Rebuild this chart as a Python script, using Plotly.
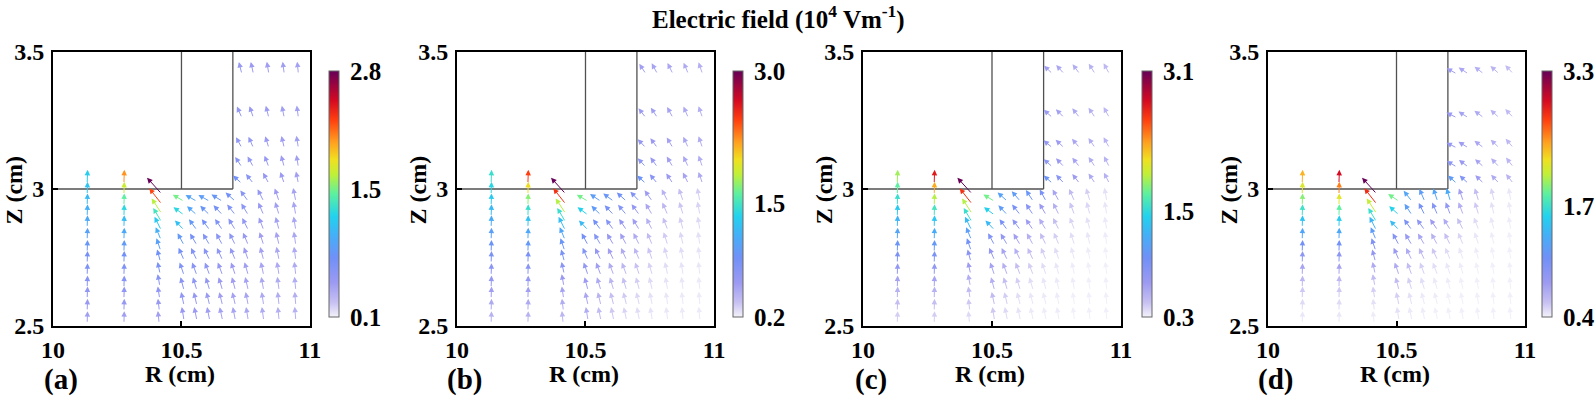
import math
import plotly.graph_objects as go
from plotly.colors import sample_colorscale

# ---------------- data ----------------
PANEL_LABELS = ["(a)", "(b)", "(c)", "(d)"]
CB_MIN = [0.1, 0.2, 0.3, 0.4]
CB_MID = [1.5, 1.5, 1.5, 1.7]
CB_MAX = [2.8, 3.0, 3.1, 3.3]
CB_TEXT = [["0.1", "1.5", "2.8"], ["0.2", "1.5", "3.0"], ["0.3", "1.5", "3.1"], ["0.4", "1.7", "3.3"]]
X_TICKS = [10, 10.5, 11]
X_TICK_TEXT = ["10", "10.5", "11"]
Y_TICKS = [2.5, 3, 3.5]
Y_TICK_TEXT = ["2.5", "3", "3.5"]

# electrode outline (R, Z) segments
BOX_R = [[10.0, 10.7], [10.5, 10.5], [10.7, 10.7]]
BOX_Z = [[3.0, 3.0], [3.0, 3.5], [3.0, 3.5]]

# vertical stacks of arrows in the gap (tails, bottom -> top)
STACK_Z = [2.51, 2.555, 2.60, 2.64, 2.685, 2.73, 2.77, 2.815, 2.86, 2.90, 2.94, 2.98, 3.02]
STACK_LEN = [0.044, 0.044, 0.044, 0.044, 0.044, 0.044, 0.044, 0.044, 0.044, 0.044, 0.044, 0.046, 0.05]
C1_R = 10.133
C2_R = 10.276
C12_ANG = 88

C3_R = [10.413, 10.414, 10.415, 10.416, 10.417, 10.418, 10.419, 10.42, 10.421, 10.422, 10.423, 10.423, 10.423]
C3_Z = [2.51, 2.555, 2.60, 2.645, 2.69, 2.735, 2.775, 2.815, 2.85, 2.88, 2.91, 2.945, 2.982]
C3_ANG = [96, 97, 99, 101, 103, 106, 110, 114, 118, 122, 125, 130, 134]
C3_LEN = [0.045, 0.045, 0.045, 0.045, 0.045, 0.046, 0.048, 0.05, 0.055, 0.06, 0.068, 0.075, 0.082]

C1_MAG = [
    [0.45, 0.5, 0.55, 0.6, 0.66, 0.72, 0.8, 0.88, 0.95, 1.0, 1.06, 1.12, 1.18],
    [0.45, 0.5, 0.56, 0.63, 0.7, 0.8, 0.9, 1.0, 1.1, 1.2, 1.3, 1.38, 1.45],
    [0.42, 0.48, 0.55, 0.64, 0.76, 0.9, 1.02, 1.14, 1.26, 1.4, 1.55, 1.7, 1.85],
    [0.44, 0.48, 0.54, 0.62, 0.75, 0.9, 1.08, 1.28, 1.5, 1.72, 1.95, 2.18, 2.4],
]
C2_MAG = [
    [0.45, 0.5, 0.55, 0.6, 0.66, 0.74, 0.84, 0.95, 1.08, 1.25, 1.45, 1.7, 2.05],
    [0.45, 0.5, 0.56, 0.63, 0.72, 0.82, 0.95, 1.08, 1.25, 1.45, 1.7, 2.0, 2.45],
    [0.42, 0.48, 0.55, 0.64, 0.76, 0.9, 1.05, 1.2, 1.38, 1.6, 1.9, 2.25, 2.7],
    [0.44, 0.48, 0.54, 0.62, 0.75, 0.9, 1.08, 1.3, 1.55, 1.85, 2.2, 2.55, 2.95],
]
C3_MAG = [
    [0.45, 0.5, 0.55, 0.6, 0.68, 0.76, 0.88, 1.0, 1.15, 1.35, 1.65, 2.25, 2.8],
    [0.42, 0.48, 0.54, 0.6, 0.7, 0.8, 0.92, 1.06, 1.22, 1.45, 1.8, 2.5, 3.0],
    [0.38, 0.44, 0.5, 0.58, 0.68, 0.8, 0.95, 1.1, 1.3, 1.55, 1.9, 2.6, 3.1],
    [0.42, 0.46, 0.52, 0.6, 0.7, 0.85, 1.0, 1.2, 1.4, 1.7, 2.1, 2.8, 3.3],
]

# field below the electrode (tails), rows bottom -> top
LOW_R = [10.51, 10.56, 10.61, 10.66, 10.71, 10.76, 10.82, 10.88, 10.945]
LOW_Z = [2.52, 2.575, 2.63, 2.685, 2.74, 2.795, 2.85, 2.905, 2.955]
LOW_LEN = 0.05
LOW_ANG = [
    [100, 102, 102, 103, 102, 100, 98, 96, 95],
    [103, 104, 105, 105, 104, 102, 99, 97, 95],
    [106, 108, 108, 108, 106, 104, 101, 98, 96],
    [110, 112, 112, 112, 110, 107, 103, 100, 97],
    [115, 117, 117, 116, 114, 110, 106, 102, 98],
    [120, 122, 122, 120, 118, 114, 109, 104, 99],
    [135, 128, 128, 126, 123, 118, 112, 106, 100],
]
LOW_TOP_ANG = [
    [[145, 140, 138, 135, 130, 123, 115, 108, 101], [151, 152, 152, 150, 140, 128, 118, 110, 102]],
    [[145, 138, 135, 132, 128, 122, 115, 108, 101], [151, 148, 145, 140, 135, 127, 118, 110, 102]],
    [[145, 135, 130, 125, 122, 118, 112, 106, 100], [150, 140, 132, 125, 120, 120, 115, 108, 101]],
    [[140, 125, 118, 115, 112, 112, 108, 104, 100], [148, 130, 115, 110, 108, 110, 108, 104, 100]],
]
LOW_MAG = [
    [
        [0.5, 0.48, 0.46, 0.44, 0.42, 0.40, 0.38, 0.36, 0.35],
        [0.55, 0.52, 0.49, 0.46, 0.44, 0.42, 0.39, 0.37, 0.36],
        [0.6, 0.56, 0.52, 0.49, 0.46, 0.43, 0.40, 0.38, 0.37],
        [0.65, 0.6, 0.56, 0.52, 0.48, 0.45, 0.42, 0.39, 0.38],
        [0.72, 0.65, 0.6, 0.56, 0.52, 0.48, 0.44, 0.41, 0.39],
        [0.82, 0.72, 0.65, 0.6, 0.56, 0.51, 0.46, 0.43, 0.40],
        [1.1, 0.82, 0.72, 0.65, 0.6, 0.54, 0.48, 0.44, 0.41],
        [1.25, 0.92, 0.8, 0.72, 0.65, 0.58, 0.5, 0.45, 0.42],
        [1.5, 0.9, 0.85, 0.8, 0.75, 0.6, 0.52, 0.47, 0.43],
    ],
    [
        [0.48, 0.4, 0.34, 0.3, 0.27, 0.25, 0.24, 0.23, 0.23],
        [0.52, 0.44, 0.38, 0.33, 0.29, 0.26, 0.24, 0.23, 0.23],
        [0.58, 0.5, 0.43, 0.37, 0.32, 0.28, 0.25, 0.24, 0.23],
        [0.65, 0.57, 0.49, 0.42, 0.36, 0.31, 0.27, 0.25, 0.24],
        [0.74, 0.64, 0.56, 0.49, 0.42, 0.35, 0.3, 0.27, 0.25],
        [0.86, 0.74, 0.64, 0.57, 0.49, 0.4, 0.33, 0.29, 0.26],
        [1.2, 0.86, 0.74, 0.64, 0.57, 0.46, 0.37, 0.32, 0.28],
        [1.35, 0.96, 0.82, 0.74, 0.64, 0.52, 0.42, 0.35, 0.3],
        [1.65, 0.98, 0.92, 0.88, 0.78, 0.58, 0.45, 0.38, 0.32],
    ],
    [
        [0.44, 0.38, 0.35, 0.33, 0.32, 0.32, 0.31, 0.31, 0.31],
        [0.5, 0.42, 0.37, 0.34, 0.33, 0.32, 0.31, 0.31, 0.31],
        [0.57, 0.48, 0.42, 0.37, 0.34, 0.33, 0.32, 0.31, 0.31],
        [0.64, 0.56, 0.48, 0.42, 0.37, 0.34, 0.32, 0.31, 0.31],
        [0.74, 0.64, 0.56, 0.49, 0.42, 0.37, 0.34, 0.32, 0.31],
        [0.87, 0.76, 0.66, 0.57, 0.49, 0.42, 0.37, 0.34, 0.32],
        [1.3, 0.92, 0.78, 0.68, 0.58, 0.48, 0.4, 0.36, 0.33],
        [1.45, 1.07, 0.92, 0.82, 0.7, 0.57, 0.45, 0.39, 0.34],
        [1.75, 1.12, 1.07, 1.02, 0.92, 0.64, 0.5, 0.42, 0.36],
    ],
    [
        [0.46, 0.43, 0.42, 0.41, 0.41, 0.41, 0.41, 0.41, 0.41],
        [0.52, 0.46, 0.43, 0.42, 0.41, 0.41, 0.41, 0.41, 0.41],
        [0.6, 0.52, 0.47, 0.43, 0.42, 0.41, 0.41, 0.41, 0.41],
        [0.7, 0.6, 0.52, 0.47, 0.44, 0.42, 0.41, 0.41, 0.41],
        [0.82, 0.7, 0.62, 0.55, 0.48, 0.44, 0.42, 0.41, 0.41],
        [0.97, 0.84, 0.74, 0.66, 0.58, 0.5, 0.44, 0.42, 0.41],
        [1.45, 1.02, 0.9, 0.8, 0.7, 0.58, 0.48, 0.44, 0.42],
        [1.6, 1.22, 1.07, 0.97, 0.87, 0.68, 0.54, 0.46, 0.43],
        [1.9, 1.27, 1.22, 1.27, 1.32, 0.77, 0.6, 0.5, 0.44],
    ],
]

# field to the right of the electrode (tails), rows bottom -> top
UP_R = [10.735, 10.78, 10.84, 10.90, 10.955]
UP_Z = [3.02, 3.08, 3.15, 3.26, 3.42]
UP_LEN = 0.045
UP_ANG = [
    [[140, 130, 120, 110, 102], [125, 120, 112, 106, 100], [120, 115, 108, 104, 100],
     [115, 110, 105, 102, 98], [105, 103, 100, 98, 96]],
    [[140, 132, 125, 118, 110], [135, 128, 122, 116, 110], [135, 128, 122, 116, 110],
     [130, 125, 120, 115, 110], [125, 120, 118, 114, 110]],
    [[140, 135, 130, 125, 118], [140, 135, 130, 125, 118], [142, 138, 132, 126, 120],
     [140, 136, 130, 125, 120], [138, 134, 128, 124, 120]],
    [[140, 140, 138, 135, 130], [150, 145, 140, 135, 130], [155, 150, 145, 138, 132],
     [155, 150, 145, 140, 135], [152, 148, 144, 140, 135]],
]
UP_MAG = [
    [[0.75, 0.6, 0.52, 0.48, 0.45], [0.6, 0.54, 0.5, 0.47, 0.45], [0.55, 0.52, 0.48, 0.46, 0.44],
     [0.52, 0.5, 0.47, 0.45, 0.44], [0.5, 0.48, 0.46, 0.45, 0.44]],
    [[0.9, 0.72, 0.6, 0.54, 0.5], [0.68, 0.62, 0.56, 0.52, 0.48], [0.64, 0.6, 0.55, 0.51, 0.48],
     [0.6, 0.57, 0.54, 0.5, 0.47], [0.56, 0.54, 0.52, 0.49, 0.46]],
    [[1.0, 0.82, 0.68, 0.6, 0.55], [0.78, 0.7, 0.64, 0.58, 0.54], [0.74, 0.68, 0.62, 0.57, 0.53],
     [0.7, 0.65, 0.6, 0.56, 0.52], [0.66, 0.62, 0.58, 0.55, 0.51]],
    [[1.2, 0.98, 0.8, 0.7, 0.64], [0.9, 0.82, 0.75, 0.68, 0.63], [0.86, 0.8, 0.73, 0.67, 0.62],
     [0.82, 0.76, 0.7, 0.65, 0.61], [0.78, 0.73, 0.68, 0.64, 0.6]],
]

# ---------------- style ----------------
COLORSCALE = [
    [0.0, "#f4f2fa"], [0.06, "#c6c0f2"], [0.14, "#9c9af2"], [0.24, "#7190f8"],
    [0.33, "#45aef8"], [0.41, "#22d2ee"], [0.5, "#5cf0a0"], [0.58, "#c0f038"],
    [0.64, "#f0e020"], [0.71, "#ffa020"], [0.8, "#ff4010"], [0.88, "#d40a22"],
    [1.0, "#660058"],
]
FONT = "Liberation Serif"
XDOM = [[0.0332, 0.1942], [0.2863, 0.4474], [0.5407, 0.7024], [0.7945, 0.9555]]
YDOM = [0.1768, 0.8687]
CB_X = [0.2061, 0.4593, 0.7155, 0.9662]

fig = go.Figure()
annotations = []


def color_of(v, p):
    t = (v - CB_MIN[p]) / (CB_MAX[p] - CB_MIN[p])
    t = min(max(t, 0.0), 1.0)
    return sample_colorscale(COLORSCALE, [t])[0]


def add_arrow(p, r0, z0, ang, length, mag):
    sfx = "" if p == 0 else str(p + 1)
    a = math.radians(ang)
    r1 = r0 + length * math.cos(a)
    z1 = z0 + length * math.sin(a)
    annotations.append(dict(
        x=r1, y=z1, ax=r0, ay=z0, xref="x" + sfx, yref="y" + sfx,
        axref="x" + sfx, ayref="y" + sfx, text="", showarrow=True,
        arrowhead=2, arrowsize=1.1, arrowwidth=1.0, arrowcolor=color_of(mag, p),
        standoff=0, startstandoff=0,
    ))


for p in range(4):
    sfx = "" if p == 0 else str(p + 1)
    for i, zr in enumerate(LOW_Z):
        for j, rr in enumerate(LOW_R):
            ang = LOW_ANG[i][j] if i < 7 else LOW_TOP_ANG[p][i - 7][j]
            add_arrow(p, rr, zr, ang, LOW_LEN, LOW_MAG[p][i][j])
    for i, zr in enumerate(UP_Z):
        for j, rr in enumerate(UP_R):
            add_arrow(p, rr, zr, UP_ANG[p][i][j], UP_LEN, UP_MAG[p][i][j])
    for k, zr in enumerate(STACK_Z):
        add_arrow(p, C1_R, zr, C12_ANG, STACK_LEN[k], C1_MAG[p][k])
        add_arrow(p, C2_R, zr, C12_ANG, STACK_LEN[k], C2_MAG[p][k])
    for k in range(len(C3_Z)):
        add_arrow(p, C3_R[k], C3_Z[k], C3_ANG[k], C3_LEN[k], C3_MAG[p][k])

    for rs, zs in zip(BOX_R, BOX_Z):
        fig.add_trace(go.Scatter(x=rs, y=zs, mode="lines", xaxis="x" + sfx, yaxis="y" + sfx,
                                 line=dict(color="#505050", width=1.3), hoverinfo="skip",
                                 showlegend=False))

    fig.add_trace(go.Scatter(
        x=[10.0], y=[2.5], mode="markers", xaxis="x" + sfx, yaxis="y" + sfx,
        marker=dict(size=1, opacity=0, color=[CB_MIN[p]], cmin=CB_MIN[p], cmax=CB_MAX[p],
                    colorscale=COLORSCALE, showscale=True,
                    colorbar=dict(x=CB_X[p], xanchor="left", xpad=0, ypad=0,
                                  y=1 - 194 / 396, yanchor="middle", len=246, lenmode="pixels",
                                  thickness=10, outlinewidth=1, outlinecolor="#666666",
                                  tickvals=[CB_MIN[p], CB_MID[p], CB_MAX[p]], ticktext=CB_TEXT[p],
                                  ticks="outside", ticklen=6, tickcolor="rgba(0,0,0,0)",
                                  tickfont=dict(family=FONT, size=25, color="black", weight="bold"))),
        hoverinfo="skip", showlegend=False))

    axis_common = dict(showline=True, linecolor="black", linewidth=1.8, mirror=True,
                       ticks="inside", ticklen=5, tickwidth=1.5, tickcolor="black",
                       showgrid=False, zeroline=False, automargin=False,
                       tickfont=dict(family=FONT, size=24, color="black", weight="bold"))
    fig.update_layout({
        "xaxis" + sfx: dict(domain=XDOM[p], range=[10, 11], anchor="y" + sfx,
                            tickvals=X_TICKS, ticktext=X_TICK_TEXT, ticklabelstandoff=1,
                            **axis_common),
        "yaxis" + sfx: dict(domain=YDOM, range=[2.5, 3.5], anchor="x" + sfx,
                            tickvals=Y_TICKS, ticktext=Y_TICK_TEXT, ticklabelstandoff=2,
                            **axis_common),
    })

    dref = "x" + sfx + " domain"
    yref = "y" + sfx + " domain"
    annotations.append(dict(text="R (cm)", x=0.494, y=-0.176, xref=dref, yref=yref,
                            showarrow=False, xanchor="center", yanchor="middle",
                            font=dict(family=FONT, size=24, color="black", weight="bold")))
    annotations.append(dict(text="Z (cm)", x=-0.15, y=0.496, xref=dref, yref=yref,
                            showarrow=False, xanchor="center", yanchor="middle", textangle=-90,
                            font=dict(family=FONT, size=24, color="black", weight="bold")))
    annotations.append(dict(text=PANEL_LABELS[p], x=0.03, y=-0.195, xref=dref, yref=yref,
                            showarrow=False, xanchor="center", yanchor="middle",
                            font=dict(family=FONT, size=29, color="black", weight="bold")))

annotations.append(dict(text="Electric field (10<sup>4</sup> Vm<sup>-1</sup>)", x=0.488, y=0.955,
                        xref="paper", yref="paper", showarrow=False, xanchor="center",
                        yanchor="middle",
                        font=dict(family=FONT, size=25, color="black", weight="bold")))

fig.update_layout(template="none", width=1596, height=396,
                  margin=dict(l=0, r=0, t=0, b=0, pad=0, autoexpand=False),
                  paper_bgcolor="white", plot_bgcolor="white", showlegend=False,
                  annotations=annotations)
fig.write_html("out.html", config={"displayModeBar": False},
               post_script="document.body.style.margin='0';document.body.style.overflow='hidden';")
